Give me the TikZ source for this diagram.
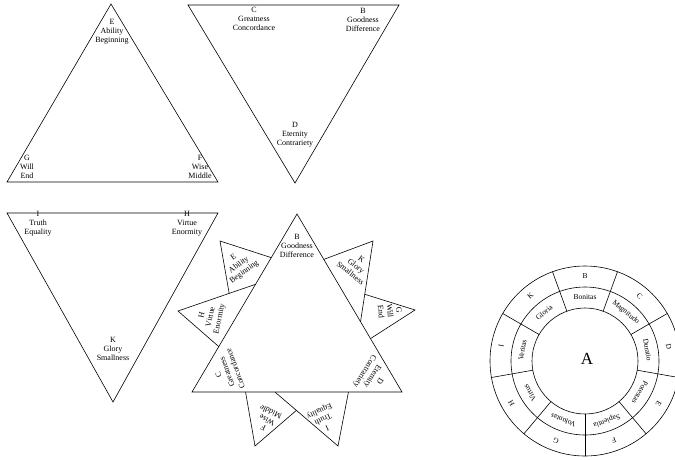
\documentclass[tikz,border=0pt]{standalone}
\usepackage{fontspec}
\setmainfont{Liberation Serif}
\usetikzlibrary{calc}

\begin{document}
\begin{tikzpicture}[
    x=1pt,
    y=-1pt,
    line width=0.6pt,
    lbl/.style={align=center, inner sep=0pt, font=\fontsize{8}{9}\selectfont},
    ring/.style={inner sep=0pt, font=\fontsize{7.5}{9}\selectfont}
]
    \useasboundingbox (0,0) rectangle (675,459);
    \clip (0,0) rectangle (675,459);

    % Triangle E F G
    \draw (111,4) -- (218,182) -- (7,182) -- cycle;
    \node[lbl] (lE) at (112,32) {E\\Ability\\Beginning};
    \node[lbl] (lG) at (27,167) {G\\Will\\End};
    \node[lbl] (lF) at (200,167) {F\\Wise\\Middle};

    % Triangle B C D
    \draw (188,5) -- (399,5) -- (295,183) -- cycle;
    \node[lbl] (lC) at (254,19) {C\\Greatness\\Concordance};
    \node[lbl] (lB) at (363,20) {B\\Goodness\\Difference};
    \node[lbl] (lD) at (295,135) {D\\Eternity\\Contrariety};

    % Triangle H I K
    \draw (7,213) -- (218,213) -- (113,402) -- cycle;
    \node[lbl] (lI) at (38,224) {I\\Truth\\Equality};
    \node[lbl] (lH) at (187,224) {H\\Virtue\\Enormity};
    \node[lbl] (lK) at (113,349) {K\\Glory\\Smallness};

    % Big triangle with flaps
    \coordinate (B4) at (297,214);
    \coordinate (C4) at (192,392);
    \coordinate (D4) at (402,392);

    % Flap H, then E under it
    \coordinate (Ha) at (178,311);
    \coordinate (Hb) at ($(C4)!0.605!(B4)$);
    \draw ($(C4)!0.255!(B4)$) -- (Ha) -- (Hb);
    \coordinate (Ea) at (220,241);
    \draw ($(C4)!0.755!(B4)$) -- (Ea) -- ($(Ha)!0.66!(Hb)$);

    % Flap K, then G under it
    \coordinate (Ka) at (373,241);
    \coordinate (Kb) at ($(B4)!0.605!(D4)$);
    \draw ($(B4)!0.255!(D4)$) -- (Ka) -- (Kb);
    \coordinate (Ga) at (415,310);
    \draw ($(Ka)!0.66!(Kb)$) -- (Ga) -- ($(B4)!0.70!(D4)$);

    % Flap I, then F under it
    \coordinate (Ia) at (338,446);
    \coordinate (Ib) at ($(D4)!0.605!(C4)$);
    \draw ($(D4)!0.255!(C4)$) -- (Ia) -- (Ib);
    \coordinate (Fa) at (255,446);
    \draw ($(D4)!0.745!(C4)$) -- (Fa) -- ($(Ia)!0.66!(Ib)$);

    \draw (B4) -- (D4) -- (C4) -- cycle;
    \node[lbl] (lB4) at (297,246) {B\\Goodness\\Difference};
    \node[lbl, rotate=110] (lC4) at (227,372) {C\\Greatness\\Concordance};
    \node[lbl, rotate=-122] (lD4) at (372,376) {D\\Eternity\\Contrariety};
    \node[lbl, rotate=36] (lE4) at (239,265) {E\\Ability\\Beginning};
    \node[lbl, rotate=78] (lH4) at (211,317) {H\\Virtue\\Enormity};
    \node[lbl, rotate=-38] (lK4) at (356,266) {K\\Glory\\Smallness};
    \node[lbl, rotate=-85] (lG4) at (390,311) {G\\Will\\End};
    \node[lbl, rotate=155] (lF4) at (267,420) {F\\Wise\\Middle};
    \node[lbl, rotate=-155] (lI4) at (323,419) {I\\Truth\\Equality};

    % Circle A
    \coordinate (A) at (585,361);
    \draw (A) circle[radius=53pt] (A) circle[radius=74pt] (A) circle[radius=95pt];
    \foreach \ang in {150,110,...,-170}
        \draw (A) ++(\ang:53pt) -- ++(\ang:42pt);
    \foreach \ang/\ltr/\nm in {90/B/Bonitas, 50/C/Magnitudo, 10/D/Duratio, -30/E/Potestas,
        -70/F/Sapientia, -110/G/Voluntas, -150/H/Virtus, 170/I/Veritas, 130/K/Gloria} {
        \node[ring, rotate=\ang-90] (o\ltr) at ($(A)+(\ang:85pt)$) {\ltr};
        \node[ring, rotate=\ang-90] (m\ltr) at ($(A)+(\ang:63.5pt)$) {\nm};
    }
    \node[font=\fontsize{17}{17}\selectfont, inner sep=0pt] (cA) at ($(A)+(2,-2)$) {A};
\end{tikzpicture}
\end{document}
